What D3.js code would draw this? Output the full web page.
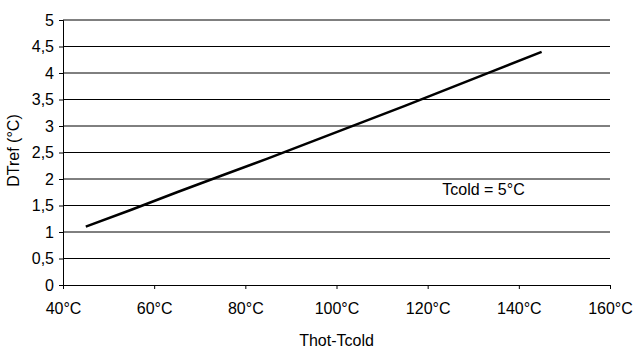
<!DOCTYPE html>
<html>
<head>
<meta charset="utf-8">
<script src="https://cdn.jsdelivr.net/npm/d3@7"></script>
<style>
  body { margin: 0; background: #fff; }
  text { font-family: "Liberation Sans", Arial, sans-serif; fill: #000; }
</style>
</head>
<body>
<svg id="chart" width="634" height="352"></svg>
<script>
// Thot-Tcold (°C) and DTref (°C)
let tempDiff = [45, 55, 65, 75, 85, 95, 105, 115, 125, 135, 145];
let dtRef = [1.1, 1.42, 1.75, 2.07, 2.39, 2.72, 3.05, 3.38, 3.72, 4.06, 4.4];
let xTicks = [40, 60, 80, 100, 120, 140, 160];
let yTicks = [0, 0.5, 1, 1.5, 2, 2.5, 3, 3.5, 4, 4.5, 5];
let note = "Tcold = 5°C";

function getChartConfig() {
    let margin = { top: 20, right: 24, bottom: 67, left: 63 },
        width = 634 - margin.left - margin.right,
        height = 352 - margin.top - margin.bottom;

    let svg = d3.select("#chart");
    let container = svg.append("g")
        .attr("transform", "translate(" + margin.left + "," + margin.top + ")");

    return { width, height, container, margin, svg }
}

function getScales(config) {
    let { width, height } = config;
    let xScale = d3.scaleLinear().domain([40, 160]).range([0, width]);
    let yScale = d3.scaleLinear().domain([0, 5]).range([height, 0]);
    return { xScale, yScale }
}

function drawGrid(config, scales) {
    let { container, width } = config;
    let { yScale } = scales;

    container.selectAll(".grid")
        .data(yTicks.filter(d => d > 0))
        .enter()
        .append("line")
        .attr("class", "grid")
        .attr("x1", 0)
        .attr("x2", width)
        .attr("y1", d => yScale(d))
        .attr("y2", d => yScale(d))
        .style("stroke", "#000")
        .style("stroke-width", 1);
}

function drawAxes(config, scales) {
    let { container, height, width, margin } = config;
    let { xScale, yScale } = scales;

    let yAxis = d3.axisLeft(yScale)
        .tickValues(yTicks)
        .tickSize(4)
        .tickPadding(5)
        .tickFormat(d => String(d).replace(".", ","));

    let gy = container.append("g").attr("class", "y axis").call(yAxis);

    let xAxis = d3.axisBottom(xScale)
        .tickValues(xTicks)
        .tickSize(4)
        .tickPadding(14)
        .tickFormat(d => d + "°C");

    let gx = container.append("g")
        .attr("class", "x axis")
        .attr("transform", "translate(0," + height + ")")
        .call(xAxis);

    [gx, gy].forEach(g => {
        g.select(".domain").attr("stroke", "#000");
        g.selectAll(".tick line").attr("stroke", "#000");
        g.selectAll("text")
            .style("font-size", "16px")
            .style("font-family", "'Liberation Sans', Arial, sans-serif")
            .attr("fill", "#000");
    });

    container.append("text")
        .attr("transform", "rotate(-90)")
        .attr("x", -(height / 2) + 2)
        .attr("y", -44)
        .style("text-anchor", "middle")
        .style("font-size", "16px")
        .text("DTref (°C)");

    container.append("text")
        .attr("x", width / 2)
        .attr("y", height + 61)
        .style("text-anchor", "middle")
        .style("font-size", "16px")
        .text("Thot-Tcold");
}

function drawLine(config, scales) {
    let { container } = config;
    let { xScale, yScale } = scales;
    let points = tempDiff.map((t, i) => [t, dtRef[i]]);

    let line = d3.line()
        .x(d => xScale(d[0]))
        .y(d => yScale(d[1]));

    container.append("path")
        .datum(points)
        .attr("d", line)
        .attr("fill", "none")
        .attr("stroke", "#000")
        .attr("stroke-width", 2.5);

    container.append("text")
        .attr("x", xScale(123.2))
        .attr("y", yScale(1.7))
        .style("font-size", "16px")
        .text(note);
}

function drawChart() {
    let config = getChartConfig();
    let scales = getScales(config);
    drawGrid(config, scales);
    drawAxes(config, scales);
    drawLine(config, scales);
}

drawChart();
</script>
</body>
</html>
